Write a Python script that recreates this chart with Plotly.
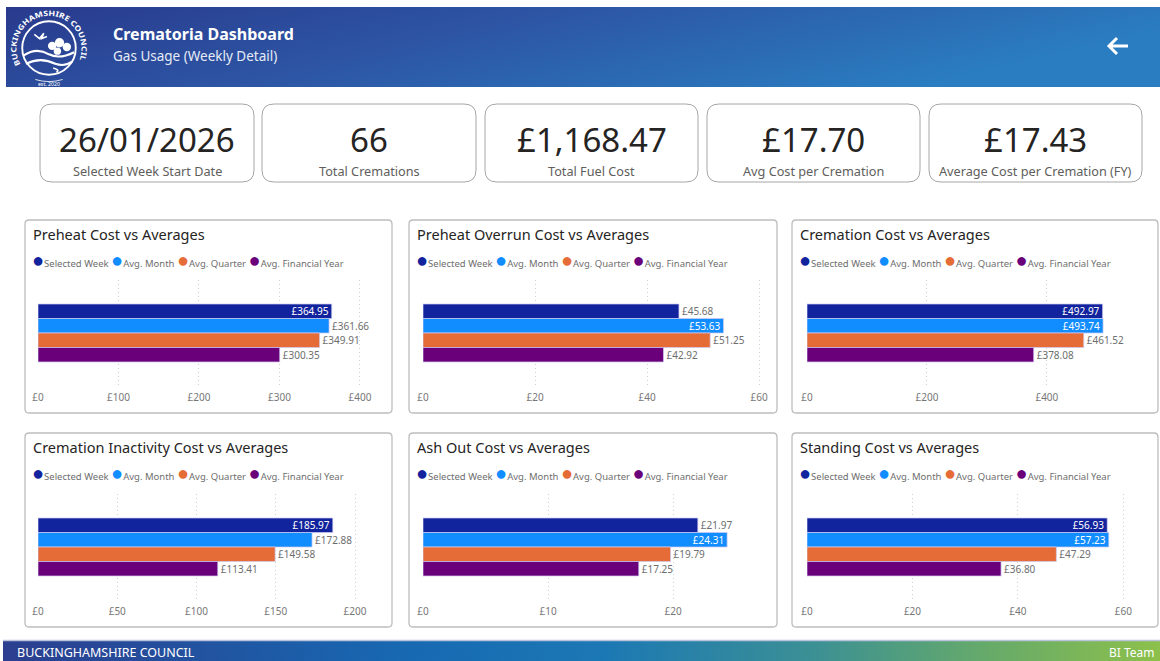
import base64
import plotly.graph_objects as go

W, H = 1160, 661

# ---------------- data ----------------
series_names = ["Selected Week", "Avg. Month", "Avg. Quarter", "Avg. Financial Year"]
series_colors = ["#12239E", "#118DFF", "#E66C37", "#6B007B"]

chart_titles = [
    "Preheat Cost vs Averages",
    "Preheat Overrun Cost vs Averages",
    "Cremation Cost vs Averages",
    "Cremation Inactivity Cost vs Averages",
    "Ash Out Cost vs Averages",
    "Standing Cost vs Averages",
]
preheat = [364.95, 361.66, 349.91, 300.35]
preheat_overrun = [45.68, 53.63, 51.25, 42.92]
cremation = [492.97, 493.74, 461.52, 378.08]
cremation_inactivity = [185.97, 172.88, 149.58, 113.41]
ash_out = [21.97, 24.31, 19.79, 17.25]
standing = [56.93, 57.23, 47.29, 36.80]
chart_values = [preheat, preheat_overrun, cremation, cremation_inactivity, ash_out, standing]

kpi_values = ["26/01/2026", "66", "£1,168.47", "£17.70", "£17.43"]
kpi_labels = ["Selected Week Start Date", "Total Cremations", "Total Fuel Cost",
              "Avg Cost per Cremation", "Average Cost per Cremation (FY)"]

header_title = "Crematoria Dashboard"
header_subtitle = "Gas Usage (Weekly Detail)"
footer_left = "BUCKINGHAMSHIRE COUNCIL"
footer_right = "BI Team"

# ---------------- style / layout config ----------------
FONT = "Noto Sans, Segoe UI, sans-serif"
label_inside = [[1, 0, 0, 0], [0, 1, 0, 0], [1, 1, 0, 0], [1, 0, 0, 0], [0, 1, 0, 0], [1, 1, 0, 0]]
axis_max = [415, 60.5, 547, 210.7, 27.1, 62.2]
axis_dtick = [100, 20, 200, 50, 10, 20]

panel_x = [(25, 392), (409, 777), (792, 1158)]
panel_y = [(220, 413), (433, 627)]
plot_x = [(38, 372), (423, 762), (807, 1135)]
plot_y = [(280, 386), (494, 600)]
kpi_x = [(40, 254), (262, 476), (485, 698), (707, 920), (929, 1142)]
kpi_y = (104, 182)


def px(x):
    return x / W


def py(y):
    return 1 - y / H


def rrect(x0, y0, x1, y1, r):
    pts = [
        f"M{px(x0 + r)},{py(y0)}", f"L{px(x1 - r)},{py(y0)}",
        f"Q{px(x1)},{py(y0)} {px(x1)},{py(y0 + r)}", f"L{px(x1)},{py(y1 - r)}",
        f"Q{px(x1)},{py(y1)} {px(x1 - r)},{py(y1)}", f"L{px(x0 + r)},{py(y1)}",
        f"Q{px(x0)},{py(y1)} {px(x0)},{py(y1 - r)}", f"L{px(x0)},{py(y0 + r)}",
        f"Q{px(x0)},{py(y0)} {px(x0 + r)},{py(y0)}", "Z",
    ]
    return " ".join(pts)


def svg_uri(svg):
    return "data:image/svg+xml;base64," + base64.b64encode(svg.encode("utf-8")).decode()


fig = go.Figure()
shapes = []
annotations = []
images = []

# ---------------- header / footer backgrounds ----------------
header_svg = """<svg xmlns="http://www.w3.org/2000/svg" width="1154" height="80" viewBox="0 0 1154 80" preserveAspectRatio="none">
<defs><linearGradient id="g" x1="0" y1="0" x2="1" y2="0.3">
<stop offset="0" stop-color="#293a8d"/><stop offset="0.45" stop-color="#2d55a4"/>
<stop offset="1" stop-color="#2a7dc1"/></linearGradient></defs>
<rect width="1154" height="80" fill="url(#g)"/></svg>"""
images.append(dict(source=svg_uri(header_svg), xref="paper", yref="paper", x=px(6), y=py(7),
                   sizex=px(1160) - px(6), sizey=80 / H, xanchor="left", yanchor="top",
                   sizing="stretch", layer="below"))

footer_svg = """<svg xmlns="http://www.w3.org/2000/svg" width="1157" height="20" viewBox="0 0 1157 20" preserveAspectRatio="none">
<defs><linearGradient id="g" x1="0" y1="0" x2="1" y2="0">
<stop offset="0" stop-color="#2c3e8f"/><stop offset="0.35" stop-color="#1769b2"/>
<stop offset="0.52" stop-color="#1c78b4"/><stop offset="0.7" stop-color="#3b9094"/>
<stop offset="0.85" stop-color="#66aa6a"/><stop offset="1" stop-color="#8dc04b"/></linearGradient></defs>
<rect width="1157" height="20" fill="url(#g)"/></svg>"""
images.append(dict(source=svg_uri(footer_svg), xref="paper", yref="paper", x=px(3), y=py(641),
                   sizex=px(1160) - px(3), sizey=20 / H, xanchor="left", yanchor="top",
                   sizing="stretch", layer="below"))
shapes.append(dict(type="line", xref="paper", yref="paper", x0=px(3), x1=1, y0=py(640.5), y1=py(640.5),
                   line=dict(color="#b9c4dc", width=1.5)))

# logo
logo_svg = """<svg xmlns="http://www.w3.org/2000/svg" width="80" height="80" viewBox="0 0 80 80">
<defs><path id="arc" d="M13.0,55.6 A31,31 0 1,1 67.0,55.6"/></defs>
<circle cx="40" cy="40" r="25.5" fill="none" stroke="white" stroke-width="1.8"/>
<text font-family="Noto Sans, DejaVu Sans, sans-serif" font-size="7" font-weight="bold" fill="white">
<textPath href="#arc" textLength="124" lengthAdjust="spacingAndGlyphs">BUCKINGHAMSHIRE COUNCIL</textPath></text>
<text x="40" y="76" font-family="Noto Sans, DejaVu Sans, sans-serif" font-size="5" fill="white" text-anchor="middle">est. 2020</text>
<path d="M27,70 Q40,74 53,70" stroke="white" stroke-width="0.8" fill="none"/>
<path d="M16,47 Q28,39 40,46 Q50,51 64,44" stroke="white" stroke-width="2" fill="none"/>
<path d="M18,55 Q32,48 46,55 Q55,58 62,53" stroke="white" stroke-width="2" fill="none"/>
<path d="M44,59 Q51,61 47,63" stroke="white" stroke-width="1.5" fill="none"/>
<circle cx="43" cy="38" r="4" fill="white"/><circle cx="50" cy="35" r="4.5" fill="white"/>
<circle cx="57" cy="39" r="4" fill="white"/><circle cx="48" cy="43" r="3.5" fill="white"/>
<path d="M26,27 L31,31 L35,26 L33,31 L38,29" stroke="white" stroke-width="1.5" fill="none"/>
</svg>"""
images.append(dict(source=svg_uri(logo_svg), xref="paper", yref="paper", x=px(7), y=py(6),
                   sizex=84 / W, sizey=84 / H, xanchor="left", yanchor="top", sizing="stretch", layer="above"))

annotations.append(dict(text=f"<b>{header_title}</b>", x=px(111), y=py(34), xref="paper", yref="paper",
                        xanchor="left", yanchor="middle", showarrow=False,
                        font=dict(family=FONT, size=16, color="white")))
annotations.append(dict(text=header_subtitle, x=px(111), y=py(56), xref="paper", yref="paper",
                        xanchor="left", yanchor="middle", showarrow=False,
                        font=dict(family=FONT, size=13.5, color="#e6ecf7")))
# back arrow
shapes.append(dict(type="path", xref="paper", yref="paper",
                   path=f"M{px(1109)},{py(46)} L{px(1128)},{py(46)} M{px(1117)},{py(38)} L{px(1109)},{py(46)} L{px(1117)},{py(54)}",
                   line=dict(color="white", width=3)))

annotations.append(dict(text=footer_left, x=px(15), y=py(652), xref="paper", yref="paper",
                        xanchor="left", yanchor="middle", showarrow=False,
                        font=dict(family=FONT, size=12.5, color="white")))
annotations.append(dict(text=footer_right, x=px(1157), y=py(652), xref="paper", yref="paper",
                        xanchor="right", yanchor="middle", showarrow=False,
                        font=dict(family=FONT, size=12, color="white")))

# ---------------- KPI cards ----------------
for (x0, x1), val, lab in zip(kpi_x, kpi_values, kpi_labels):
    shapes.append(dict(type="path", xref="paper", yref="paper", path=rrect(x0, kpi_y[0], x1, kpi_y[1], 12),
                       line=dict(color="#a6a6a6", width=1), fillcolor="white", layer="below"))
    cx = (x0 + x1) / 2
    annotations.append(dict(text=val, x=px(cx), y=py(139), xref="paper", yref="paper",
                            xanchor="center", yanchor="middle", showarrow=False,
                            font=dict(family=FONT, size=33, color="#252423")))
    annotations.append(dict(text=lab, x=px(cx), y=py(171), xref="paper", yref="paper",
                            xanchor="center", yanchor="middle", showarrow=False,
                            font=dict(family=FONT, size=12.7, color="#605E5C")))

# ---------------- charts ----------------
legend_text = " ".join(
    f"<span style='color:{c};font-size:20px'>●</span><span style='color:#6e6e6e'>{n}</span>"
    for n, c in zip(series_names, series_colors)
)

layout_axes = {}
for k, (title, vals) in enumerate(zip(chart_titles, chart_values)):
    row, col = divmod(k, 3)
    suf = "" if k == 0 else str(k + 1)
    (bx0, bx1), (by0, by1) = panel_x[col], panel_y[row]
    shapes.append(dict(type="path", xref="paper", yref="paper", path=rrect(bx0, by0, bx1, by1, 4),
                       line=dict(color="#bdbdbd", width=1.3), fillcolor="white", layer="below"))
    annotations.append(dict(text=title, x=px(bx0 + 6), y=py(by0 + 14), xref="paper", yref="paper",
                            xanchor="left", yanchor="middle", showarrow=False,
                            font=dict(family=FONT, size=14.5, color="#252423")))
    annotations.append(dict(text=legend_text, x=px(bx0 + 5), y=py(by0 + 39), xref="paper", yref="paper",
                            xanchor="left", yanchor="middle", showarrow=False,
                            font=dict(family=FONT, size=9.5, color="#6e6e6e")))

    for i, (name, color, v) in enumerate(zip(series_names, series_colors, vals)):
        inside = label_inside[k][i] == 1
        fig.add_trace(go.Bar(
            x=[v], y=["Cost"], orientation="h", name=name, showlegend=False,
            marker=dict(color=color, line=dict(color="rgba(205,200,240,0.9)", width=0.8)),
            text=[f"£{v:,.2f}"], textposition="inside" if inside else "outside",
            insidetextanchor="end", constraintext="none", cliponaxis=False, textangle=0,
            textfont=dict(family=FONT, size=10, color="white" if inside else "#6e6e6e"),
            xaxis="x" + suf, yaxis="y" + suf,
            hovertemplate=name + ": £%{x:,.2f}<extra></extra>",
        ))

    (qx0, qx1), (qy0, qy1) = plot_x[col], plot_y[row]
    layout_axes["xaxis" + suf] = dict(
        domain=[px(qx0), px(qx1)], range=[0, axis_max[k]], tick0=0, dtick=axis_dtick[k],
        tickprefix="£", showgrid=True, gridcolor="#cfcfcf", griddash="1px,3px", gridwidth=1,
        zeroline=False, showline=False, ticks="", anchor="y" + suf, ticklabelstandoff=4,
        tickfont=dict(family=FONT, size=10, color="#777777"), fixedrange=True,
    )
    layout_axes["yaxis" + suf] = dict(
        domain=[py(qy1), py(qy0)], autorange="reversed", showticklabels=False, showgrid=False,
        zeroline=False, showline=False, anchor="x" + suf, fixedrange=True,
    )

fig.update_layout(
    width=W, height=H, margin=dict(l=0, r=0, t=0, b=0, autoexpand=False),
    paper_bgcolor="white", plot_bgcolor="rgba(0,0,0,0)",
    barmode="group", bargap=0.453, bargroupgap=0,
    shapes=shapes, annotations=annotations, images=images,
    font=dict(family=FONT), showlegend=False,
    **layout_axes,
)

fig.write_html("out.html", config={"displayModeBar": False},
               post_script="document.body.style.margin='0';document.body.style.overflow='hidden';")
